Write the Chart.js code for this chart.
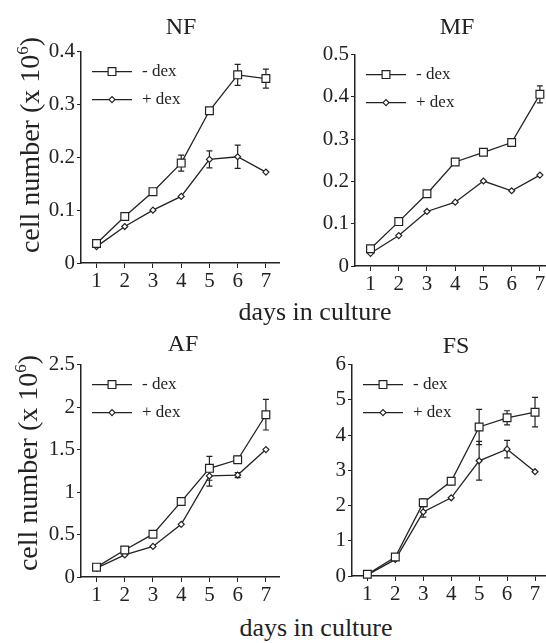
<!DOCTYPE html>
<html>
<head>
<meta charset="utf-8">
<script src="https://cdn.jsdelivr.net/npm/chart.js@4"></script>
<style>
  html, body { margin: 0; padding: 0; background: #fff; }
  body { width: 546px; height: 643px; position: relative; overflow: hidden;
         font-family: "Liberation Serif", "DejaVu Serif", serif; color: #222; }
  canvas { position: absolute; }
  .lbl { position: absolute; white-space: nowrap; transform: translate(-50%, -50%); }
  .title { font-size: 24px; }
  .xlab { font-size: 26px; }
  .ylab { font-size: 28px; transform: translate(-50%, -50%) rotate(-90deg); }
  sup { font-size: 17px; vertical-align: 11px; line-height: 0; }
</style>
</head>
<body>
<canvas id="nf" width="249" height="261" style="left:31px;top:37px"></canvas>
<canvas id="mf" width="249" height="261" style="left:305px;top:40px"></canvas>
<canvas id="af" width="249" height="262" style="left:31px;top:350px"></canvas>
<canvas id="fs" width="247" height="261" style="left:302px;top:350px"></canvas>

<div class="lbl title" style="left:181px;top:26px">NF</div>
<div class="lbl title" style="left:457px;top:26px">MF</div>
<div class="lbl title" style="left:183px;top:343px">AF</div>
<div class="lbl title" style="left:456px;top:345px">FS</div>
<div class="lbl xlab" style="left:315px;top:312px">days in culture</div>
<div class="lbl xlab" style="left:316px;top:628px">days in culture</div>
<div class="lbl ylab" style="left:30px;top:145px">cell number (x 10<sup>6</sup>)</div>
<div class="lbl ylab" style="left:28px;top:463px">cell number (x 10<sup>6</sup>)</div>

<script>
// days on the x axis
const days = [1, 2, 3, 4, 5, 6, 7];
const seriesNames = ["- dex", "+ dex"];

// NF
const nfTicks = [0, 0.1, 0.2, 0.3, 0.4];
const nfMinus = [0.037, 0.088, 0.135, 0.189, 0.288, 0.356, 0.349];
const nfMinusErr = [0, 0, 0, 0.015, 0, 0.02, 0.018];
const nfPlus = [0.031, 0.069, 0.100, 0.126, 0.196, 0.201, 0.172];
const nfPlusErr = [0, 0, 0, 0, 0.016, 0.022, 0];

// MF
const mfTicks = [0, 0.1, 0.2, 0.3, 0.4, 0.5];
const mfMinus = [0.041, 0.105, 0.171, 0.246, 0.269, 0.292, 0.406];
const mfMinusErr = [0, 0, 0, 0, 0, 0, 0.02];
const mfPlus = [0.030, 0.072, 0.129, 0.151, 0.201, 0.178, 0.215];
const mfPlusErr = [0, 0, 0, 0, 0, 0, 0];

// AF
const afTicks = [0, 0.5, 1, 1.5, 2, 2.5];
const afMinus = [0.116, 0.318, 0.504, 0.888, 1.279, 1.38, 1.91];
const afMinusErr = [0, 0, 0, 0, 0.14, 0.04, 0.18];
const afPlus = [0.105, 0.26, 0.36, 0.62, 1.19, 1.20, 1.50];
const afPlusErr = [0, 0, 0, 0, 0.12, 0.03, 0];

// FS
const fsTicks = [0, 1, 2, 3, 4, 5, 6];
const fsMinus = [0.05, 0.54, 2.08, 2.69, 4.23, 4.49, 4.65];
const fsMinusErr = [0, 0, 0.1, 0.1, 0.5, 0.2, 0.42];
const fsPlus = [0.03, 0.47, 1.82, 2.22, 3.27, 3.60, 2.96];
const fsPlusErr = [0, 0, 0.15, 0, 0.55, 0.25, 0];

const INK = "#222";
const FONT = "Liberation Serif";

// vertical error bars with caps, drawn under the markers
const errorBars = {
  id: "errorBars",
  beforeDatasetsDraw(chart) {
    const ctx = chart.ctx;
    const xs = chart.scales.x, ys = chart.scales.y;
    ctx.save();
    ctx.strokeStyle = INK;
    ctx.lineWidth = 1.2;
    chart.data.datasets.forEach((ds) => {
      ds.err.forEach((e, i) => {
        if (!e) return;
        const x = xs.getPixelForValue(days[i]);
        const y1 = ys.getPixelForValue(ds.data[i].y + e);
        const y2 = ys.getPixelForValue(ds.data[i].y - e);
        ctx.beginPath();
        ctx.moveTo(x, y1); ctx.lineTo(x, y2);
        ctx.moveTo(x - 3, y1); ctx.lineTo(x + 3, y1);
        ctx.moveTo(x - 3, y2); ctx.lineTo(x + 3, y2);
        ctx.stroke();
      });
    });
    ctx.restore();
  },
};

// legend inside the plot, top left
const innerLegend = {
  id: "innerLegend",
  afterDraw(chart) {
    const ctx = chart.ctx;
    const a = chart.chartArea;
    ctx.save();
    chart.data.datasets.forEach((ds, i) => {
      const y = a.top + 20 + i * 28;
      const x0 = a.left + 11, x1 = a.left + 51;
      ctx.strokeStyle = INK;
      ctx.lineWidth = 1.3;
      ctx.beginPath();
      ctx.moveTo(x0, y); ctx.lineTo(x1, y);
      ctx.stroke();
      ctx.fillStyle = "#fff";
      ctx.lineWidth = 1.2;
      Chart.helpers.drawPoint(ctx, { pointStyle: ds.pointStyle, radius: ds.pointRadius, rotation: 0, borderWidth: 1.2 }, (x0 + x1) / 2, y);
      ctx.fillStyle = INK;
      ctx.font = "17px " + FONT;
      ctx.textBaseline = "middle";
      ctx.fillText(ds.label, a.left + 61, y);
    });
    ctx.restore();
  },
};

function series(label, vals, err, style, r) {
  return {
    label,
    data: days.map((d, i) => ({ x: d, y: vals[i] })),
    err,
    borderColor: INK,
    borderWidth: 1.3,
    pointStyle: style,
    pointRadius: r,
    pointBackgroundColor: "#fff",
    pointBorderColor: INK,
    pointBorderWidth: 1.2,
    tension: 0,
    clip: false,
  };
}

function axisGrid(len) {
  return { display: true, drawOnChartArea: false, drawTicks: true, tickLength: len, color: INK, lineWidth: 1 };
}

function makePanel(id, yTicks, minus, minusErr, plus, plusErr) {
  new Chart(document.getElementById(id), {
    type: "line",
    data: {
      datasets: [
        series(seriesNames[0], minus, minusErr, "rect", 5.5),
        series(seriesNames[1], plus, plusErr, "rectRot", 3),
      ],
    },
    options: {
      responsive: false,
      animation: false,
      devicePixelRatio: 1,
      layout: { padding: { top: 12, left: 0, right: 0, bottom: 0 }, autoPadding: false },
      plugins: { legend: { display: false }, tooltip: { enabled: false } },
      scales: {
        x: {
          type: "linear",
          min: 0.45,
          max: 7.5,
          afterBuildTicks: (s) => { s.ticks = days.map((v) => ({ value: v })); },
          afterFit: (s) => { s.height = 35; },
          grid: axisGrid(5),
          border: { display: true, color: INK, width: 1.5 },
          ticks: { font: { family: FONT, size: 21 }, color: INK, padding: 1, maxRotation: 0, autoSkip: false },
        },
        y: {
          min: yTicks[0],
          max: yTicks[yTicks.length - 1],
          afterBuildTicks: (s) => { s.ticks = yTicks.map((v) => ({ value: v })); },
          afterFit: (s) => { s.width = 50; },
          grid: axisGrid(4),
          border: { display: true, color: INK, width: 1.5 },
          ticks: { font: { family: FONT, size: 21 }, color: INK, padding: 2, callback: (v) => String(v) },
        },
      },
    },
    plugins: [errorBars, innerLegend],
  });
}

makePanel("nf", nfTicks, nfMinus, nfMinusErr, nfPlus, nfPlusErr);
makePanel("mf", mfTicks, mfMinus, mfMinusErr, mfPlus, mfPlusErr);
makePanel("af", afTicks, afMinus, afMinusErr, afPlus, afPlusErr);
makePanel("fs", fsTicks, fsMinus, fsMinusErr, fsPlus, fsPlusErr);
</script>
</body>
</html>
